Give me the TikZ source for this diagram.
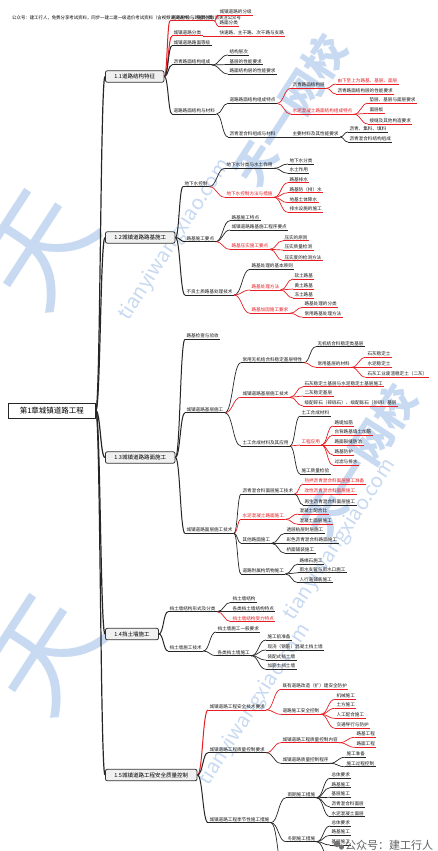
\documentclass[tikz,border=0pt]{standalone}
\usepackage{fontspec}
\setmainfont{Noto Sans CJK SC}
\usetikzlibrary{calc}
\definecolor{rd}{RGB}{230,30,35}
\definecolor{wmc}{RGB}{200,218,242}
\newcommand\lff{\fontsize{4.6}{5}\selectfont}
\newcommand\secf{\fontsize{5.5}{6}\selectfont}
\newcommand\rootf{\fontsize{7.5}{8}\selectfont}
\newcommand\hdf{\fontsize{4.4}{5}\selectfont}
\newcommand\rt[1]{\textcolor{rd}{#1}}
\tikzset{
 cn/.style={to path={.. controls ($(\tikztostart)!0.5!(\tikztotarget|-\tikztostart)$) and ($(\tikztostart|-\tikztotarget)!0.5!(\tikztotarget)$) .. (\tikztotarget)}},
 lf/.style={anchor=south west, inner xsep=1.3pt, inner ysep=0.8pt, font=\lff, text=black!90},
 bl/.style={draw=black!85, line width=0.7pt},
 rl/.style={draw=rd, line width=0.7pt},
 bl2/.style={draw=black!85, line width=1pt},
 rl2/.style={draw=rd, line width=1pt},
 trunk/.style={draw=black!85, line width=1.2pt},
 sec/.style={draw=black!80, fill=black!6, rounded corners=2pt, line width=0.8pt, inner xsep=9pt, inner ysep=0pt, minimum height=11.5pt, anchor=west, font=\secf},
 rootbox/.style={draw=black!85, fill=white, line width=0.8pt, minimum width=87pt, minimum height=15pt, inner sep=0pt, font=\rootf, anchor=west},
 wmtext/.style={text=wmc, rotate=57, font=\fontsize{20}{20}\selectfont},
 wmlogo/.style={text=wmc, rotate=57, font=\fontsize{42}{42}\selectfont\bfseries},
}
\newcommand\nd[4][bl]{\node[lf] (#2) at (#3) {#4}; \draw[#1] (#2.south west) -- (#2.south east);}
\newcommand\lk[3][bl]{\draw[#1] (#2.south east) to[cn] (#3.south west);}
\newcommand\sk[3][bl2]{\draw[#1] (#2.east) to[cn] (#3.south west);}
\begin{document}
\begin{tikzpicture}[x=1pt,y=-1pt]
\useasboundingbox (0,0) rectangle (438,851);
\fill[white] (0,0) rectangle (438,851);
\clip (0,0) rectangle (438,851);
% watermarks
\node[wmlogo] (w1) at (290,110) {天一网校};
\node[wmtext] (w2) at (175,240) {tianyiwangxiao.com};
\node[wmlogo] (w3) at (360,460) {天一网校};
\node[wmtext] (w4) at (340,540) {tianyiwangxiao.com};
\node[wmtext] (w5) at (255,705) {tianyiwangxiao.com};
\node[wmlogo, font=\fontsize{110}{110}\selectfont] (w6) at (40,250) {天};
\node[wmlogo, font=\fontsize{110}{110}\selectfont] (w7) at (45,655) {天};
% header
\node[anchor=south west, font=\hdf, inner sep=0pt] (hd) at (12,20) {公众号：建工行人，免费分享考试资料，同步一建二建一级造价考试资料（含视频讲义课件），免费领取请关注公众号};
% root and sections
\node[rootbox] (R) at (8,410.5) {第1章城镇道路工程};
\node[sec] (S1) at (105,76.5) {1.1道路结构特征};
\node[sec] (S2) at (105,237.5) {1.2城镇道路路基施工};
\node[sec] (S3) at (105,457.5) {1.3城镇道路路面施工};
\node[sec] (S4) at (105,634) {1.4挡土墙施工};
\node[sec] (S5) at (105,775) {1.5城镇道路工程安全质量控制};
\foreach \s in {S1,S2,S3,S4,S5} \draw[trunk] (R.east) to[cn] (\s.west);
% ---- 1.1
\nd[rl2]{a}{170,21}{道路分级与路面分类}
\nd[rl]{a1}{218,15}{城镇道路的分级}
\nd[rl]{a2}{218,26}{路面分类}
\nd[rl2]{b}{172,36}{城镇道路分类}
\nd[rl]{b1}{218,36}{快速路、主干路、次干路与支路}
\nd[bl2]{c}{172,45.7}{城镇道路路面等级}
\nd[bl2]{d}{172,65}{沥青路面结构组成}
\nd{d1}{228,55}{结构层次}
\nd{d2}{228,64.5}{基层的性能要求}
\nd{d3}{228,74}{路面结构层的性能要求}
\nd[bl2]{e}{172,114}{道路路面结构与材料}
\nd{e1}{228,103.3}{道路路面结构组成特点}
\nd[rl]{e1a}{291,88.3}{沥青路面结构层}
\nd[rl]{e1a1}{336,84}{\rt{由下至上为路基、基层、面层}}
\nd[rl]{e1a2}{336,94}{沥青路面结构层的性能要求}
\nd[rl]{e1b}{291,114.3}{\rt{水泥混凝土路面结构组成特点}}
\nd[rl]{e1b1}{368,103.3}{垫层、基层与面层要求}
\nd[rl]{e1b2}{368,113.3}{面层板}
\nd[rl]{e1b3}{368,124}{接缝及其他构造要求}
\nd{e2}{228,137}{沥青混合料组成与材料}
\nd{e2a}{291,137}{主要材料及其性能要求}
\nd{e2a1}{348,132}{沥青、集料、填料}
\nd{e2a2}{348,142}{沥青混合料结构组成}
\sk[rl2]{S1}{a} \sk[rl2]{S1}{b} \sk{S1}{c} \sk{S1}{d} \sk{S1}{e}
\lk[rl]{a}{a1} \lk[rl]{a}{a2} \lk[rl]{b}{b1}
\lk{d}{d1} \lk{d}{d2} \lk{d}{d3}
\lk{e}{e1} \lk{e}{e2}
\lk[rl]{e1}{e1a} \lk[rl]{e1}{e1b}
\lk[rl]{e1a}{e1a1} \lk[rl]{e1a}{e1a2}
\lk[rl]{e1b}{e1b1} \lk[rl]{e1b}{e1b2} \lk[rl]{e1b}{e1b3}
\lk{e2}{e2a} \lk{e2a}{e2a1} \lk{e2a}{e2a2}
% ---- 1.2
\nd[bl2]{f}{183,186.7}{地下水控制}
\nd{f1}{225,168.3}{地下水分类与水土作用}
\nd{f1a}{288,164}{地下水分类}
\nd{f1b}{288,173.3}{水土作用}
\nd[rl]{f2}{225,197.3}{\rt{地下水控制方法与措施}}
\nd[rl]{f2a}{288,182.7}{路基排水}
\nd[rl]{f2b}{288,192.7}{路基防（排）水}
\nd[rl]{f2c}{288,202.7}{地基土体降水}
\nd[rl]{f2d}{288,212.3}{排水设施的施工}
\nd[bl2]{g}{185,241.7}{路基施工要点}
\nd{g1}{230,220.7}{路基施工特点}
\nd{g2}{230,230}{城镇道路路基施工程序要点}
\nd[rl]{g3}{230,249.3}{\rt{路基压实施工要点}}
\nd[rl]{g3a}{283,240.7}{压实的原则}
\nd[rl]{g3b}{283,250}{压实质量检测}
\nd[rl]{g3c}{283,260.7}{压实度的检测方法}
\nd[bl2]{h}{185,295}{不良土质路基处理技术}
\nd{h1}{250,269.3}{路基处理的基本原则}
\nd[rl]{h2}{250,290}{\rt{路基处理方法}}
\nd[rl]{h2a}{293,279}{软土路基}
\nd[rl]{h2b}{293,289}{黄土路基}
\nd[rl]{h2c}{293,298}{冻土路基}
\nd[rl]{h3}{250,313.3}{\rt{路基加固施工要求}}
\nd[rl]{h3a}{303,307.3}{路基处理的分类}
\nd[rl]{h3b}{303,317.3}{常用路基处理方法}
\sk{S2}{f} \sk{S2}{g} \sk{S2}{h}
\lk{f}{f1} \lk[rl]{f}{f2}
\lk{f1}{f1a} \lk{f1}{f1b}
\lk[rl]{f2}{f2a} \lk[rl]{f2}{f2b} \lk[rl]{f2}{f2c} \lk[rl]{f2}{f2d}
\lk{g}{g1} \lk{g}{g2} \lk[rl]{g}{g3}
\lk[rl]{g3}{g3a} \lk[rl]{g3}{g3b} \lk[rl]{g3}{g3c}
\lk{h}{h1} \lk[rl]{h}{h2} \lk[rl]{h}{h3}
\lk[rl]{h2}{h2a} \lk[rl]{h2}{h2b} \lk[rl]{h2}{h2c}
\lk[rl]{h3}{h3a} \lk[rl]{h3}{h3b}
% ---- 1.3
\nd[bl2]{i}{185,339.3}{路基检查与验收}
\nd[bl2]{j}{185,412.7}{城镇道路基层施工}
\nd{j1}{241,362.7}{常用无机结合料稳定基层特性}
\nd{j1a}{316,346.7}{无机结合料稳定类基层}
\nd[rl]{j1b}{316,367.3}{常用基层的材料}
\nd[rl]{j1b1}{366,357.3}{石灰稳定土}
\nd[rl]{j1b2}{366,367.3}{水泥稳定土}
\nd[rl]{j1b3}{366,377.3}{石灰工业废渣稳定土（二灰）}
\nd[rl]{j2}{241,397.3}{城镇道路基层施工技术}
\nd[rl]{j2a}{303,386.7}{石灰稳定土基层与水泥稳定土基层施工}
\nd[rl]{j2b}{303,396}{二灰稳定基层}
\nd[rl]{j2c}{303,406}{级配碎石（碎砾石）、级配砾石（砂砾）基层}
\nd{j3}{241,446}{土工合成材料及其应用}
\nd{j3a}{300,416}{土工合成材料}
\nd[rl]{j3b}{300,445}{\rt{工程应用}}
\nd[rl]{j3b1}{333,426}{路堤加筋}
\nd[rl]{j3b2}{333,435}{台背路基填土加筋}
\nd[rl]{j3b3}{333,445}{路面裂缝防治}
\nd[rl]{j3b4}{333,455}{路基防护}
\nd[rl]{j3b5}{333,465}{过滤与排水}
\nd{j3c}{300,474}{施工质量检验}
\nd[bl2]{k}{185,533.3}{城镇道路面层施工技术}
\nd{k1}{241,494}{沥青混合料面层施工技术}
\nd[rl]{k1a}{303,484}{\rt{热拌沥青混合料面层施工准备}}
\nd[rl]{k1b}{303,494}{\rt{改性沥青混合料面层施工}}
\nd{k1c}{303,505}{再生沥青混合料面层施工}
\nd[rl]{k2}{241,519.3}{\rt{水泥混凝土路面施工}}
\nd[rl]{k2a}{298,514}{混凝土配合比}
\nd[rl]{k2b}{298,524.3}{混凝土面层施工}
\nd{k3}{241,543.3}{其他路面施工}
\nd{k3a}{285,533.3}{透层粘层封层施工}
\nd{k3b}{285,543.3}{彩色沥青混合料路面施工}
\nd{k3c}{285,553.3}{桥面铺装施工}
\nd{k4}{241,574}{道路附属构筑物施工}
\nd{k4a}{298,564}{路缘石施工}
\nd{k4b}{298,572.7}{雨水支管与雨水口施工}
\nd{k4c}{298,582.7}{人行道铺装施工}
\sk{S3}{i} \sk{S3}{j} \sk{S3}{k}
\lk{j}{j1} \lk[rl]{j}{j2} \lk{j}{j3}
\lk{j1}{j1a} \lk[rl]{j1}{j1b}
\lk[rl]{j1b}{j1b1} \lk[rl]{j1b}{j1b2} \lk[rl]{j1b}{j1b3}
\lk[rl]{j2}{j2a} \lk[rl]{j2}{j2b} \lk[rl]{j2}{j2c}
\lk{j3}{j3a} \lk[rl]{j3}{j3b} \lk{j3}{j3c}
\lk[rl]{j3b}{j3b1} \lk[rl]{j3b}{j3b2} \lk[rl]{j3b}{j3b3} \lk[rl]{j3b}{j3b4} \lk[rl]{j3b}{j3b5}
\lk{k}{k1} \lk[rl]{k}{k2} \lk{k}{k3} \lk{k}{k4}
\lk[rl]{k1}{k1a} \lk[rl]{k1}{k1b} \lk{k1}{k1c}
\lk[rl]{k2}{k2a} \lk[rl]{k2}{k2b}
\lk{k3}{k3a} \lk{k3}{k3b} \lk{k3}{k3c}
\lk{k4}{k4a} \lk{k4}{k4b} \lk{k4}{k4c}
% ---- 1.4
\nd[bl2]{l}{168,611.7}{挡土墙结构形式及分类}
\nd{l1}{231,602.3}{挡土墙结构}
\nd{l2}{231,611.7}{各类挡土墙结构特点}
\nd[rl]{l3}{231,621.7}{\rt{挡土墙结构受力特点}}
\nd[bl2]{m}{168,651}{挡土墙施工技术}
\nd{m1}{216,632}{挡土墙施工一般要求}
\nd{m2}{216,655.7}{各类挡土墙施工}
\nd{m2a}{266,640}{施工前准备}
\nd{m2b}{266,650}{现浇（钢筋）混凝土挡土墙}
\nd{m2c}{266,660}{装配式挡土墙}
\nd{m2d}{266,669.3}{加筋土挡土墙}
\sk{S4}{l} \sk{S4}{m}
\lk{l}{l1} \lk{l}{l2} \lk[rl]{l}{l3}
\lk{m}{m1} \lk{m}{m2}
\lk{m2}{m2a} \lk{m2}{m2b} \lk{m2}{m2c} \lk{m2}{m2d}
% ---- 1.5
\nd[rl2]{n}{208,710}{城镇道路工程安全技术要求}
\nd[rl]{n1}{281,689.3}{既有道路改造（扩）建安全防护}
\nd[rl]{n2}{281,714.3}{道路施工安全控制}
\nd[rl]{n2a}{335,699.3}{机械施工}
\nd[rl]{n2b}{335,708.3}{土方施工}
\nd[rl]{n2c}{335,718.3}{人工配合施工}
\nd[rl]{n2d}{335,728.3}{交通导行与防护}
\nd[bl2]{o}{208,752.7}{城镇道路工程质量控制要求}
\nd[rl]{o1}{281,742.7}{城镇道路工程质量控制内容}
\nd[rl]{o1a}{355,737.3}{路基工程}
\nd[rl]{o1b}{355,747.3}{路面工程}
\nd{o2}{281,763.3}{城镇道路质量控制程序}
\nd{o2a}{345,757.3}{施工准备}
\nd{o2b}{345,766.7}{施工过程控制}
\nd[bl2]{p}{208,822.7}{城镇道路工程季节性施工措施}
\nd{p1}{286,797.7}{雨期施工措施}
\nd{p1a}{330,778.3}{总体要求}
\nd{p1b}{330,787.7}{路基施工}
\nd{p1c}{330,797.3}{基层施工}
\nd{p1d}{330,807}{沥青混合料面层}
\nd{p1e}{330,816.7}{水泥混凝土面层}
\nd{p2}{286,841.7}{冬期施工措施}
\nd{p2a}{330,826}{总体要求}
\nd{p2b}{330,835.3}{路基施工}
\nd{p2c}{330,845}{基层施工}
\coordinate (p3) at (286,885);
\coordinate (p2d) at (330,858);
\sk[rl2]{S5}{n} \sk{S5}{o} \sk{S5}{p}
\lk[rl]{n}{n1} \lk[rl]{n}{n2}
\lk[rl]{n2}{n2a} \lk[rl]{n2}{n2b} \lk[rl]{n2}{n2c} \lk[rl]{n2}{n2d}
\lk[rl]{o}{o1} \lk{o}{o2}
\lk[rl]{o1}{o1a} \lk[rl]{o1}{o1b}
\lk{o2}{o2a} \lk{o2}{o2b}
\lk{p}{p1} \lk{p}{p2}
\draw[bl] (p.south east) to[cn] (p3);
\lk{p1}{p1a} \lk{p1}{p1b} \lk{p1}{p1c} \lk{p1}{p1d} \lk{p1}{p1e}
\lk{p2}{p2a} \lk{p2}{p2b} \lk{p2}{p2c}
\draw[bl] (p2.south east) to[cn] (p2d);
% bottom-right account mark
\fill[black!55] (337,844) circle (3.2pt);
\fill[black!55] (341.5,847) circle (2.6pt);
\node[anchor=west, font=\fontsize{11}{11}\selectfont, text=black!62, inner sep=0pt] (acct) at (345,845) {公众号：建工行人};
\end{tikzpicture}
\end{document}
